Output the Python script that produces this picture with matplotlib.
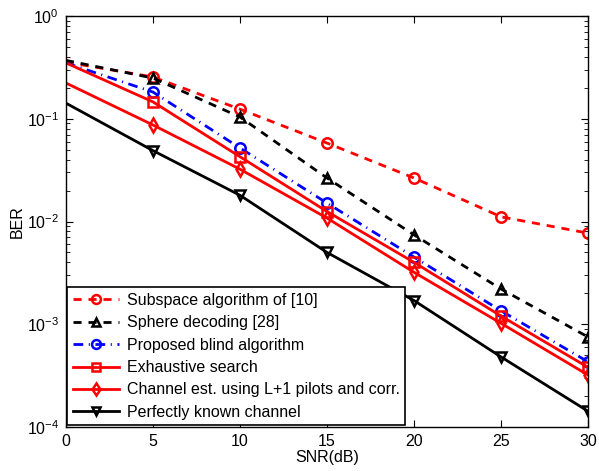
import matplotlib
matplotlib.use("Agg")
import matplotlib.pyplot as plt
import numpy as np

plt.rcParams['font.family'] = ['Liberation Sans', 'DejaVu Sans']
plt.rcParams['mathtext.fontset'] = 'custom'
plt.rcParams['mathtext.rm'] = 'Liberation Sans'

# SNR points (dB)
snr = [0, 5, 10, 15, 20, 25, 30]

# BER values
ber_subspace = [0.356, 0.255, 0.124, 0.058, 0.0265, 0.0111, 0.0077]
ber_sphere = [0.37, 0.249, 0.104, 0.0265, 0.0074, 0.0022, 0.00075]
ber_blind = [0.35, 0.182, 0.052, 0.0151, 0.0045, 0.00135, 0.00043]
ber_exhaustive = [0.35, 0.146, 0.0427, 0.0125, 0.0040, 0.0012, 0.00038]
ber_chan_est = [0.223, 0.087, 0.0323, 0.0108, 0.0032, 0.00102, 0.00032]
ber_perfect = [0.142, 0.049, 0.018, 0.0050, 0.0017, 0.00048, 0.000142]

labels = [
    'Subspace algorithm of [10]',
    'Sphere decoding [28]',
    'Proposed blind algorithm',
    'Exhaustive search',
    'Channel est. using L+1 pilots and corr.',
    'Perfectly known channel',
]

fig = plt.figure(figsize=(5.99, 4.71), dpi=100)
ax = fig.add_axes([0.110, 0.0934, 0.872, 0.8726])

# no marker at SNR = 0, as in the original figure
common = dict(linewidth=2, markersize=7.5, markeredgewidth=1.8,
              markerfacecolor='none', markevery=slice(1, None))

ax.semilogy(snr, ber_subspace, color='red', marker='o', dashes=(2.9, 2.5),
            label=labels[0], **common)
ax.semilogy(snr, ber_sphere, color='black', marker='^', dashes=(2.9, 2.5),
            label=labels[1], **common)
ax.semilogy(snr, ber_blind, color='blue', marker='o', dashes=(3.5, 2, 0.4, 2),
            label=labels[2], **common)
ax.semilogy(snr, ber_exhaustive, color='red', marker='s', linestyle='-',
            label=labels[3], **common)
ax.semilogy(snr, ber_chan_est, color='red', marker='d', linestyle='-',
            label=labels[4], **common)
ax.semilogy(snr, ber_perfect, color='black', marker='v', linestyle='-',
            label=labels[5], **common)

ax.set_xlim(0, 30)
ax.set_ylim(1e-4, 1)
ax.set_xticks(snr)
ax.tick_params(which='both', direction='in', top=True, right=True, labelsize=11.5)
ax.tick_params(which='major', length=5, pad=5)
ax.tick_params(which='minor', length=3)
for side in ax.spines.values():
    side.set_linewidth(1.0)

ax.set_xlabel('SNR(dB)', fontsize=11.5, labelpad=1)
ax.set_ylabel('BER', fontsize=11.5, labelpad=1)

leg = ax.legend(loc='lower left', bbox_to_anchor=(0, 0), borderaxespad=0.1,
                fontsize=11.5, fancybox=False, edgecolor='black', framealpha=1,
                handlelength=2.9, handletextpad=0.45, labelspacing=0.46,
                borderpad=0.35, markerscale=0.85)
leg.get_frame().set_linewidth(1.2)

fig.savefig('out.png', dpi=100)
